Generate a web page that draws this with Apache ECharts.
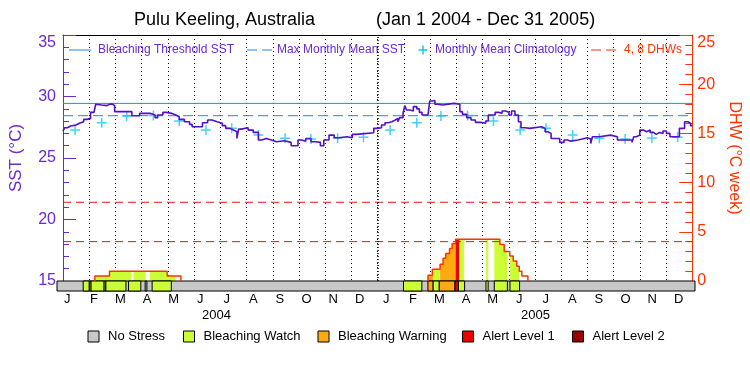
<!DOCTYPE html>
<html>
<head>
<meta charset="utf-8">
<script src="https://cdn.jsdelivr.net/npm/echarts@6/dist/echarts.min.js"></script>
<style>
  body { margin: 0; background: #fff; }
  #chart { width: 750px; height: 375px; }
</style>
</head>
<body>
<div id="chart"></div>
<script>
// days counted from Jan 1 2004 (0 .. 731)
const months = ['J', 'F', 'M', 'A', 'M', 'J', 'J', 'A', 'S', 'O', 'N', 'D',
  'J', 'F', 'M', 'A', 'M', 'J', 'J', 'A', 'S', 'O', 'N', 'D']
const years = ['2004', '2005']

const sstDay = [0, 2, 5, 9, 15, 19, 21, 24, 28, 32, 36, 38, 40, 45, 51, 54, 57, 60, 80, 89,
  101, 107, 110, 116, 120, 126, 131, 135, 141, 147, 150, 162, 168, 173, 179, 185, 189, 194, 198, 202,
  204, 207, 215, 221, 227, 231, 236, 242, 248, 257, 265, 273, 277, 282, 288, 294, 299, 303, 309, 315,
  320, 330, 336, 341, 361, 364,
  370, 374, 378, 382, 386, 389, 391, 395, 397, 399, 403, 407, 411, 414, 417, 424, 426, 429, 432, 435,
  441, 454, 461, 464, 469, 474, 479, 485, 491, 494, 502, 506, 510, 514, 518, 521, 525, 529, 532, 537,
  542, 556, 560, 563, 567, 577, 582, 586, 590, 598, 603, 609, 613, 615, 623, 636, 644, 661, 663, 666,
  670, 674, 678, 682, 686, 689, 693, 697, 701, 705, 716, 722, 726, 729, 731]
const sstVal = [27.19, 27.46, 27.60, 27.68, 27.82, 27.79, 27.95, 28.14, 28.22, 28.71, 28.82, 29.37, 29.31, 29.26, 29.37, 29.39, 29.26, 28.77, 28.44, 28.63,
  28.50, 28.28, 28.50, 28.71, 28.63, 28.50, 28.36, 28.14, 27.95, 27.73, 27.54, 27.87, 28.09, 27.95, 27.82, 27.63, 27.41, 27.27, 27.14, 26.59,
  27.35, 27.46, 27.27, 27.08, 26.46, 26.59, 26.46, 26.32, 26.40, 26.27, 25.99, 26.46, 26.37, 26.59, 26.32, 26.27, 25.99, 26.46, 26.86, 26.65,
  26.73, 26.65, 26.92, 27.05, 27.41, 27.46,
  27.68, 27.87, 27.95, 28.09, 28.22, 27.95, 28.28, 28.63, 29.26, 28.90, 28.82, 29.18, 28.99, 28.71, 28.50, 28.63, 29.64, 29.67, 29.37, 29.31,
  29.44, 29.37, 28.77, 28.55, 28.28, 28.09, 27.90, 27.82, 28.01, 28.50, 28.71, 28.63, 28.82, 28.71, 28.50, 28.82, 28.50, 27.95, 27.46, 27.41,
  27.54, 27.41, 27.14, 27.00, 26.59, 26.27, 26.46, 26.37, 26.46, 26.54, 26.65, 26.54, 26.18, 26.73, 26.86, 26.73, 26.46, 26.27, 26.73, 26.86,
  27.27, 27.14, 27.27, 27.08, 26.92, 27.08, 27.00, 27.19, 27.00, 26.73, 27.41, 27.95, 27.82, 27.63, 27.63]

// monthly mean climatology, Jan..Dec
const climVal = [27.27, 27.87, 28.41, 28.45, 28.01, 27.27, 27.42, 26.88, 26.60, 26.54, 26.62, 26.68]
const mmmSst = 28.44
const thresholdSst = 29.44
const dhwLines = [4, 8]

const dhw2004Day = [37, 37, 54, 121, 137]
const dhw2004Val = [0, 0.5, 1.0, 0.5, 0]
const dhw2005Day = [424, 424, 429, 438, 441.5, 444.5, 449, 452, 456, 507.5, 512.5, 519, 523, 527, 530, 533, 540]
const dhw2005Val = [0, 0.58, 1.2, 1.7, 2.3, 2.8, 3.3, 3.8, 4.25, 3.7, 3.0, 2.55, 2.04, 1.5, 1.0, 0.5, 0]

// stress levels: 0 none, 1 watch, 2 warning, 3 alert 1, 4 alert 2
const bandStart = [0, 30, 37, 39, 54, 56, 82, 101, 109, 397, 425, 431, 438, 456, 460, 491.5, 501, 519]
const bandEnd = [731, 37, 39, 54, 56, 79, 96, 103, 131, 418, 431, 438, 456, 460, 467, 494, 516, 530]
const bandLevel = [0, 1, 1, 1, 1, 1, 1, 0, 1, 1, 2, 1, 2, 3, 1, 1, 1, 1]

const fillStart = [37, 82, 101, 424, 430, 438, 456, 460, 491.5, 501, 519]
const fillEnd = [79, 96, 131, 430, 438, 456, 460, 466, 494, 516, 530]
const fillLevel = [1, 1, 1, 2, 1, 2, 3, 1, 1, 1, 1]

const stressNames = ['No Stress', 'Bleaching Watch', 'Bleaching Warning', 'Alert Level 1', 'Alert Level 2']
const stressColors = ['#c8c8c8', '#ccff33', '#ffaa11', '#ee0000', '#990000']

const PURPLE = '#5210c8'
const AXIS_PURPLE = '#6a2ad8'
const BLUE = '#1e88e5'
const CYAN = '#10c8f8'
const RED = '#ff3300'
const FONT = 'Liberation Sans'

const dhwDay = dhw2004Day.concat(dhw2005Day)
const dhwVal = dhw2004Val.concat(dhw2005Val)
function dhwAt (d) {
  let v = 0
  for (let i = 0; i < dhwDay.length; i++) {
    if (dhwDay[i] <= d) v = dhwVal[i]
  }
  return v
}

const t0 = Date.UTC(2004, 0, 1)
const climData = []
for (let m = 0; m < 24; m++) {
  const day = (Date.UTC(2004, m, 15) - t0) / 864e5
  climData.push([day, climVal[m % 12]])
}

const zip = (a, b) => a.map((x, i) => [x, b[i]])
const flat = (v) => [[0, v], [731, v]]
const plus = 'path://M8.5,0H11.5V8.5H20V11.5H11.5V20H8.5V11.5H0V8.5H8.5Z'

const chart = echarts.init(document.getElementById('chart'))

const legendTop = [
  { type: 'line', shape: { x1: 69, y1: 50, x2: 91, y2: 50 }, style: { stroke: BLUE, lineWidth: 1 } },
  { type: 'text', x: 98, y: 50, style: { text: 'Bleaching Threshold SST', fill: AXIS_PURPLE, fontSize: 12, fontFamily: FONT, verticalAlign: 'middle' } },
  { type: 'line', shape: { x1: 247, y1: 50, x2: 272, y2: 50 }, style: { stroke: BLUE, lineWidth: 1, lineDash: [10, 5] } },
  { type: 'text', x: 277, y: 50, style: { text: 'Max Monthly Mean SST', fill: AXIS_PURPLE, fontSize: 12, fontFamily: FONT, verticalAlign: 'middle' } },
  { type: 'line', shape: { x1: 418.5, y1: 50, x2: 427.5, y2: 50 }, style: { stroke: CYAN, lineWidth: 1.5 } },
  { type: 'line', shape: { x1: 423, y1: 45.5, x2: 423, y2: 54.5 }, style: { stroke: CYAN, lineWidth: 1.5 } },
  { type: 'text', x: 435, y: 50, style: { text: 'Monthly Mean Climatology', fill: AXIS_PURPLE, fontSize: 12, fontFamily: FONT, verticalAlign: 'middle' } },
  { type: 'line', shape: { x1: 591, y1: 50, x2: 616, y2: 50 }, style: { stroke: RED, lineWidth: 1, lineDash: [10, 5] } },
  { type: 'text', x: 624, y: 50, style: { text: '4, 8 DHWs', fill: RED, fontSize: 12, fontFamily: FONT, verticalAlign: 'middle' } }
]

const boxX = [88, 183.5, 318, 462.5, 572.5]
const legendBottom = []
stressNames.forEach((name, i) => {
  legendBottom.push({ type: 'rect', shape: { x: boxX[i], y: 331, width: 11, height: 11 }, style: { fill: stressColors[i], stroke: '#000', lineWidth: 1 } })
  legendBottom.push({ type: 'text', x: boxX[i] + 20, y: 336.5, style: { text: name, fill: '#000', fontSize: 13, fontFamily: FONT, verticalAlign: 'middle' } })
})

chart.setOption({
  animation: false,
  backgroundColor: '#fff',
  textStyle: { fontFamily: FONT },
  title: [
    { text: 'Pulu Keeling, Australia', left: 134, top: 11, padding: 0, textStyle: { color: '#000', fontSize: 18, fontWeight: 'normal', fontFamily: FONT } },
    { text: '(Jan 1 2004 - Dec 31 2005)', left: 376, top: 11, padding: 0, textStyle: { color: '#000', fontSize: 18, fontWeight: 'normal', fontFamily: FONT } }
  ],
  grid: [
    { left: 57, right: 55, top: 35, height: 246 },
    { left: 57, right: 55, top: 281, height: 10 }
  ],
  xAxis: [
    { type: 'value', gridIndex: 0, min: 0, max: 731, show: false },
    {
      type: 'category', gridIndex: 0, data: months, position: 'top', boundaryGap: true,
      axisLine: { show: true, onZero: false, lineStyle: { color: '#000', width: 1 } },
      axisTick: { show: false }, axisLabel: { show: false },
      splitLine: { show: true, interval: 0, lineStyle: { color: '#000', width: 1, type: [1, 3] } }
    },
    { type: 'value', gridIndex: 1, min: 0, max: 731, show: false },
    {
      type: 'category', gridIndex: 1, data: months, position: 'bottom',
      axisLine: { show: false }, axisTick: { show: false }, splitLine: { show: false },
      axisLabel: { interval: 0, color: '#000', fontSize: 13, margin: 2, padding: [0, 6, 0, 0] }
    },
    {
      type: 'category', gridIndex: 1, data: years, position: 'bottom',
      axisLine: { show: false }, axisTick: { show: false }, splitLine: { show: false },
      axisLabel: { interval: 0, color: '#000', fontSize: 13, margin: 18 }
    }
  ],
  yAxis: [
    {
      type: 'value', gridIndex: 0, position: 'left', min: 15, max: 35, interval: 5,
      name: 'SST (°C)', nameLocation: 'middle', nameGap: 38, nameRotate: 90,
      nameTextStyle: { color: AXIS_PURPLE, fontSize: 17 },
      axisLine: { show: true, lineStyle: { color: AXIS_PURPLE, width: 1 } },
      axisTick: { show: true, inside: true, length: 13, lineStyle: { color: AXIS_PURPLE } },
      minorTick: { show: true, splitNumber: 5, length: 6, lineStyle: { color: AXIS_PURPLE } },
      axisLabel: { color: AXIS_PURPLE, fontSize: 16, margin: 7, verticalAlignMaxLabel: 'top' },
      splitLine: { show: false }
    },
    {
      type: 'value', gridIndex: 0, position: 'right', min: 0, max: 25, interval: 5,
      name: 'DHW (°C week)', nameLocation: 'middle', nameGap: 29, nameRotate: -90,
      nameTextStyle: { color: RED, fontSize: 16 },
      axisLine: { show: true, lineStyle: { color: RED, width: 1 } },
      axisTick: { show: true, inside: true, length: 13, lineStyle: { color: RED } },
      minorTick: { show: true, splitNumber: 5, length: 7, lineStyle: { color: RED } },
      axisLabel: { color: RED, fontSize: 16, margin: 5, verticalAlignMaxLabel: 'top' },
      splitLine: { show: false }
    },
    { type: 'value', gridIndex: 1, min: 0, max: 1, show: false }
  ],
  graphic: legendTop.concat(legendBottom),
  series: [
    {
      name: 'stress fill', type: 'custom', xAxisIndex: 0, yAxisIndex: 1, z: 1, silent: true,
      data: fillStart.map((s, i) => [s, fillEnd[i], fillLevel[i]]),
      renderItem (params, api) {
        const s = api.value(0)
        const e = api.value(1)
        const xs = [s].concat(dhwDay.filter(d => d > s && d < e))
        const pts = [api.coord([s, 0])]
        xs.forEach((x, k) => {
          const v = dhwAt(x)
          const next = k + 1 < xs.length ? xs[k + 1] : e
          pts.push(api.coord([x, v]))
          pts.push(api.coord([next, v]))
        })
        pts.push(api.coord([e, 0]))
        return { type: 'polygon', shape: { points: pts }, style: { fill: stressColors[api.value(2)] } }
      }
    },
    {
      name: 'stress band', type: 'custom', xAxisIndex: 2, yAxisIndex: 2, z: 2, silent: true,
      data: bandStart.map((s, i) => [s, bandEnd[i], bandLevel[i]]),
      renderItem (params, api) {
        const p0 = api.coord([api.value(0), 1])
        const p1 = api.coord([api.value(1), 0])
        return {
          type: 'rect',
          shape: { x: p0[0], y: p0[1], width: p1[0] - p0[0], height: p1[1] - p0[1] },
          style: { fill: stressColors[api.value(2)], stroke: '#000', lineWidth: 1 }
        }
      }
    },
    {
      name: '4 DHW', type: 'line', xAxisIndex: 0, yAxisIndex: 1, z: 3, symbol: 'none', silent: true,
      data: flat(dhwLines[0]), lineStyle: { color: '#ee1111', width: 1, type: [8, 5] }
    },
    {
      name: '8 DHW', type: 'line', xAxisIndex: 0, yAxisIndex: 1, z: 3, symbol: 'none', silent: true,
      data: flat(dhwLines[1]), lineStyle: { color: '#ee1111', width: 1, type: [8, 5] }
    },
    {
      name: 'DHW 2004', type: 'line', xAxisIndex: 0, yAxisIndex: 1, z: 4, symbol: 'none', step: 'end',
      data: zip(dhw2004Day, dhw2004Val), lineStyle: { color: RED, width: 1.5 }
    },
    {
      name: 'DHW 2005', type: 'line', xAxisIndex: 0, yAxisIndex: 1, z: 4, symbol: 'none', step: 'end',
      data: zip(dhw2005Day, dhw2005Val), lineStyle: { color: RED, width: 1.5 }
    },
    {
      name: 'Bleaching Threshold SST', type: 'line', xAxisIndex: 0, yAxisIndex: 0, z: 5, symbol: 'none', silent: true,
      data: flat(thresholdSst), lineStyle: { color: BLUE, width: 1 },
      markLine: {
        silent: true, symbol: 'none', label: { show: false },
        lineStyle: { color: '#000', width: 1.5, type: [1, 2] },
        data: [{ xAxis: 366 }]
      }
    },
    {
      name: 'Max Monthly Mean SST', type: 'line', xAxisIndex: 0, yAxisIndex: 0, z: 5, symbol: 'none', silent: true,
      data: flat(mmmSst), lineStyle: { color: BLUE, width: 1, type: [10, 5] }
    },
    {
      name: 'Monthly Mean Climatology', type: 'scatter', xAxisIndex: 0, yAxisIndex: 0, z: 6,
      symbol: plus, symbolSize: 10, data: climData, itemStyle: { color: CYAN }
    },
    {
      name: 'SST', type: 'line', xAxisIndex: 0, yAxisIndex: 0, z: 7, symbol: 'none', step: 'end',
      data: zip(sstDay, sstVal), lineStyle: { color: PURPLE, width: 1.6 }
    }
  ]
})
</script>
</body>
</html>
